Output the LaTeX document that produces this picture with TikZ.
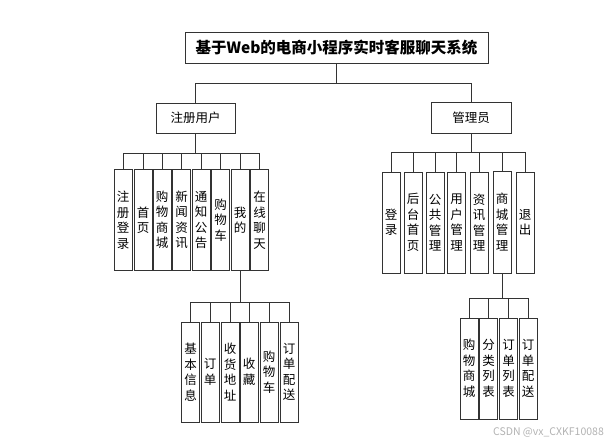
\documentclass[tikz,border=0pt]{standalone}
\usepackage{fontspec}
\newfontfamily\cjk{Noto Sans CJK SC}
\usetikzlibrary{positioning}

\tikzset{
  box/.style={draw=black!80, line width=0.9pt, fill=white, inner sep=0pt, align=center},
  head/.style={box, minimum width=79pt, minimum height=30pt, font=\cjk\fontsize{12.5}{15}\selectfont},
  leaf/.style={box, minimum width=18pt, minimum height=101pt, font=\cjk\fontsize{12.5}{15.5}\selectfont},
  link/.style={draw=black!80, line width=0.9pt}
}

\begin{document}
\begin{tikzpicture}[x=1pt,y=-1pt]
      \useasboundingbox (0,0) rectangle (615,442);
      % top
      \node[box, minimum width=303pt, minimum height=31pt, font=\cjk\bfseries\fontsize{15.5}{18}\selectfont] (T) at (336.5,47.5) {基于Web的电商小程序实时客服聊天系统};
      \node[head] (U) at (195.5,118) {注册用户};
      \node[head, minimum width=80pt, minimum height=31pt] (M) at (471,117.5) {管理员};
      \draw[link] (T.south) -- ++(0,20) -| (U.north);
      \draw[link] (T.south) -- ++(0,20) -| (M.north);

      % registered user
      \node[leaf] (u1) at (123,220) {注\\册\\登\\录};
      \node[leaf] (u2) at (143,220) {首\\页};
      \node[leaf] (u3) at (162,220) {购\\物\\商\\城};
      \node[leaf] (u4) at (181.5,220) {新\\闻\\资\\讯};
      \node[leaf] (u5) at (201,220) {通\\知\\公\\告};
      \node[leaf] (u6) at (220.5,220) {购\\物\\车};
      \node[leaf] (u7) at (240,220) {我\\的};
      \node[leaf] (u8) at (259.5,220) {在\\线\\聊\\天};
      \foreach \n in {u1,u2,u3,u4,u5,u6,u7,u8}
        \draw[link] (U.south) -- ++(0,20) -| (\n.north);

      % my
      \node[leaf, minimum height=100pt] (w1) at (190.5,372) {基\\本\\信\\息};
      \node[leaf, minimum height=100pt] (w2) at (210,372) {订\\单};
      \node[leaf, minimum height=100pt] (w3) at (230,372) {收\\货\\地\\址};
      \node[leaf, minimum height=100pt] (w4) at (249,372) {收\\藏};
      \node[leaf, minimum height=100pt] (w5) at (269,372) {购\\物\\车};
      \node[leaf, minimum height=100pt] (w6) at (289,372) {订\\单\\配\\送};
      \foreach \n in {w1,w2,w3,w4,w5,w6}
        \draw[link] (u7.south) -- ++(0,31) -| (\n.north);

      % admin
      \node[leaf] (a1) at (391,222.5) {登\\录};
      \node[leaf] (a2) at (413,222.5) {后\\台\\首\\页};
      \node[leaf] (a3) at (435,222.5) {公\\共\\管\\理};
      \node[leaf] (a4) at (456.5,222.5) {用\\户\\管\\理};
      \node[leaf] (a5) at (479,222.5) {资\\讯\\管\\理};
      \node[leaf, minimum height=102pt] (a6) at (502,222) {商\\城\\管\\理};
      \node[leaf] (a7) at (525,222.5) {退\\出};
      \foreach \n in {a1,a2,a3,a4,a5,a6,a7}
        \draw[link] (M.south) -- ++(0,19) -| (\n.north);

      % mall
      \node[leaf] (s1) at (469,368.5) {购\\物\\商\\城};
      \node[leaf] (s2) at (488.5,368.5) {分\\类\\列\\表};
      \node[leaf] (s3) at (508.5,368.5) {订\\单\\列\\表};
      \node[leaf] (s4) at (528,368.5) {订\\单\\配\\送};
      \foreach \n in {s1,s2,s3,s4}
        \draw[link] (a6.south) -- ++(0,25) -| (\n.north);

      \node[font=\cjk\fontsize{10.5}{12}\selectfont, text=black!30, inner sep=0pt] (wm) at (548.5,432) {CSDN @vx\_CXKF10088};
\end{tikzpicture}
\end{document}
